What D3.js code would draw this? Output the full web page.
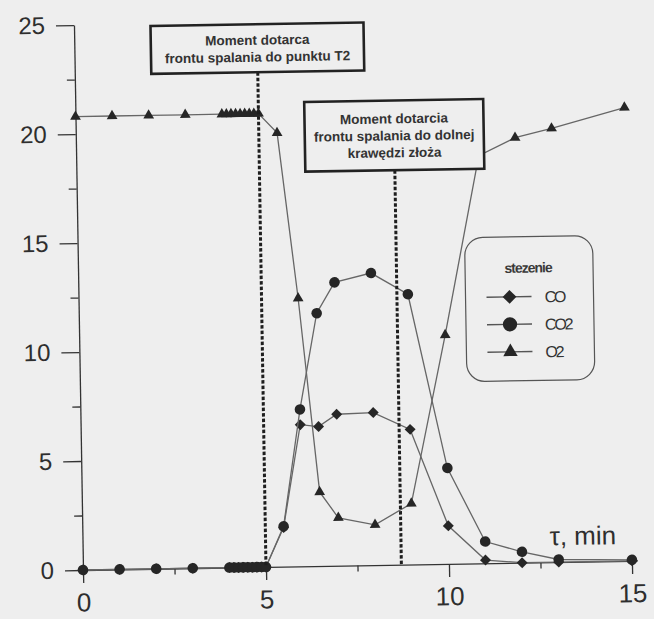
<!DOCTYPE html>
<html>
<head>
<meta charset="utf-8">
<script src="https://cdn.jsdelivr.net/npm/d3@7"></script>
<style>
  body { margin: 0; background: #eeeeee; }
  svg { display: block; }
</style>
</head>
<body>
<script>
// time points (min) shared by all three series
const times = [0, 1, 2, 3, 4, 4.125, 4.25, 4.375, 4.5, 4.625, 4.75, 4.875, 5, 5.5, 6, 6.5, 7, 8, 9, 10, 11, 12, 13, 15];
const co = [0, 0, 0, 0, 0, 0, 0, 0, 0, 0, 0, 0, 0, 1.8, 6.5, 6.4, 6.95, 7.0, 6.2, 1.75, 0.15, 0, 0, 0];
const co2 = [0, 0, 0, 0, 0, 0, 0, 0, 0, 0, 0, 0, 0, 1.85, 7.2, 11.6, 13.0, 13.4, 12.4, 4.4, 1.0, 0.5, 0.12, 0.05];
const o2 = [20.8, 20.8, 20.8, 20.8, 20.8, 20.8, 20.8, 20.8, 20.8, 20.8, 20.8, 20.8, 20.8, 19.9, 12.3, 3.4, 2.2, 1.85, 2.8, 10.5, 18.7, 19.5, 19.9, 20.8];

const seriesNames = ["CO", "CO2", "O2"];
const legendTitle = "stezenie";
const xAxisLabel = "τ, min";

const yMajorTicks = [0, 5, 10, 15, 20, 25];
const yMinorTicks = [2.5, 7.5, 12.5, 17.5, 22.5];
const xMajorTicks = [0, 5, 10, 15];
const xMinorTicks = [2.5, 7.5, 12.5];

// moments marked with dashed lines
const noteTimes = [5, 8.7];
const noteTexts = [
  ["Moment dotarca", "frontu spalania do punktu T2"],
  ["Moment dotarcia", "frontu spalania do dolnej", "krawędzi złoża"],
];

const W = 654, H = 619;
const font = "'Liberation Sans', Arial, sans-serif";
const ink = "#262626";

const x = d3.scaleLinear().domain([0, 15]).range([83, 632]);
const y = d3.scaleLinear().domain([0, 25]).range([570, 25]);

const root = d3.select("body").append("svg")
  .attr("width", W)
  .attr("height", H);

root.append("rect")
  .attr("width", W)
  .attr("height", H)
  .attr("fill", "#eeeeee");

// the scanned figure is slightly rotated
const svg = root.append("g")
  .attr("transform", `rotate(-0.95, ${x(0)}, ${y(0)})`);

// axes
const styleAxis = (g) => {
  g.selectAll("path, line").attr("stroke", "#333").attr("stroke-width", 1.3);
  g.selectAll("text").attr("fill", "#2e2e2e").attr("font-family", font);
};

svg.append("g")
  .attr("transform", `translate(${x(0)},0)`)
  .call(d3.axisLeft(y).tickValues(yMajorTicks).tickSize(18).tickSizeOuter(0).tickPadding(11))
  .call(styleAxis)
  .call((g) => g.selectAll("text").attr("font-size", 24));

svg.append("g")
  .attr("transform", `translate(${x(0)},0)`)
  .call(d3.axisLeft(y).tickValues(yMinorTicks).tickSize(8).tickFormat(""))
  .call(styleAxis)
  .call((g) => g.select(".domain").remove());

svg.append("g")
  .attr("transform", `translate(0,${y(0)})`)
  .call(d3.axisBottom(x).tickValues(xMajorTicks).tickSize(13).tickSizeOuter(0).tickPadding(10))
  .call(styleAxis)
  .call((g) => g.selectAll("text").attr("font-size", 26));

svg.append("g")
  .attr("transform", `translate(0,${y(0)})`)
  .call(d3.axisBottom(x).tickValues(xMinorTicks).tickSize(6).tickFormat(""))
  .call(styleAxis)
  .call((g) => g.select(".domain").remove());

// axis line runs a little past the last tick
svg.append("line")
  .attr("x1", x(15))
  .attr("x2", x(15) + 6)
  .attr("y1", y(0))
  .attr("y2", y(0))
  .attr("stroke", "#333")
  .attr("stroke-width", 1.3);

svg.append("text")
  .attr("x", 550)
  .attr("y", 553)
  .attr("font-family", font)
  .attr("font-size", 26)
  .attr("fill", "#2e2e2e")
  .text(xAxisLabel);

// series
const symbols = [
  { type: d3.symbolSquare, size: 60, rotate: 45, legendSize: 95 },
  { type: d3.symbolCircle, size: 88, rotate: 0, legendSize: 160 },
  { type: d3.symbolTriangle, size: 50, rotate: 0, legendSize: 90 },
];
const seriesValues = [co, co2, o2];

const line = d3.line()
  .x((d) => x(d.t))
  .y((d) => y(d.v));

seriesValues.forEach((values, i) => {
  const data = times.map((t, k) => ({ t, v: values[k] }));
  svg.append("path")
    .datum(data)
    .attr("fill", "none")
    .attr("stroke", "#666")
    .attr("stroke-width", 1.3)
    .attr("d", line);

  svg.append("g")
    .selectAll("path")
    .data(data)
    .enter()
    .append("path")
    .attr("d", d3.symbol().type(symbols[i].type).size(symbols[i].size))
    .attr("transform", (d) => `translate(${x(d.t)},${y(d.v)}) rotate(${symbols[i].rotate})`)
    .attr("fill", ink);
});

// dashed markers and their text boxes
const boxes = [
  { top: 24.9, bottom: 22.7, width: 213 },
  { top: 21.3, bottom: 18.1, width: 179 },
];

noteTimes.forEach((t, i) => {
  const b = boxes[i];
  const cx = x(t);
  svg.append("line")
    .attr("x1", cx)
    .attr("x2", cx)
    .attr("y1", y(b.bottom))
    .attr("y2", y(0))
    .attr("stroke", "#1e1e1e")
    .attr("stroke-width", 3)
    .attr("stroke-dasharray", "3.5,2");

  svg.append("rect")
    .attr("x", cx - b.width / 2)
    .attr("y", y(b.top))
    .attr("width", b.width)
    .attr("height", y(b.bottom) - y(b.top))
    .attr("fill", "#eeeeee")
    .attr("stroke", "#222")
    .attr("stroke-width", 2.6);

  const lines = noteTexts[i];
  const top = y(b.top);
  const h = y(b.bottom) - top;
  const step = 17;
  const first = top + h / 2 - ((lines.length - 1) * step) / 2 + 5;
  svg.append("text")
    .attr("font-family", font)
    .attr("font-size", 13.5)
    .attr("font-weight", "bold")
    .attr("fill", "#333")
    .attr("text-anchor", "middle")
    .selectAll("tspan")
    .data(lines)
    .enter()
    .append("tspan")
    .attr("x", cx)
    .attr("y", (d, k) => first + k * step)
    .text((d) => d);
});

// legend
const legend = svg.append("g").attr("transform", "translate(470,244)");
legend.append("rect")
  .attr("width", 128)
  .attr("height", 144)
  .attr("rx", 18)
  .attr("fill", "#eeeeee")
  .attr("stroke", "#555")
  .attr("stroke-width", 1.2);

legend.append("text")
  .attr("x", 63)
  .attr("y", 36)
  .attr("text-anchor", "middle")
  .attr("font-family", font)
  .attr("font-size", 14)
  .attr("font-weight", "bold")
  .attr("letter-spacing", -1)
  .attr("fill", "#3a3a3a")
  .text(legendTitle);

seriesNames.forEach((name, i) => {
  const ry = 60 + i * 27.5;
  legend.append("line")
    .attr("x1", 21)
    .attr("x2", 66)
    .attr("y1", ry)
    .attr("y2", ry)
    .attr("stroke", "#555")
    .attr("stroke-width", 1.4);
  legend.append("path")
    .attr("d", d3.symbol().type(symbols[i].type).size(symbols[i].legendSize))
    .attr("transform", `translate(44,${ry}) rotate(${symbols[i].rotate})`)
    .attr("fill", ink);
  legend.append("text")
    .attr("x", 79)
    .attr("y", ry + 6)
    .attr("font-family", font)
    .attr("font-size", 16)
    .attr("letter-spacing", -2.2)
    .attr("fill", "#333")
    .text(name);
});
</script>
</body>
</html>
